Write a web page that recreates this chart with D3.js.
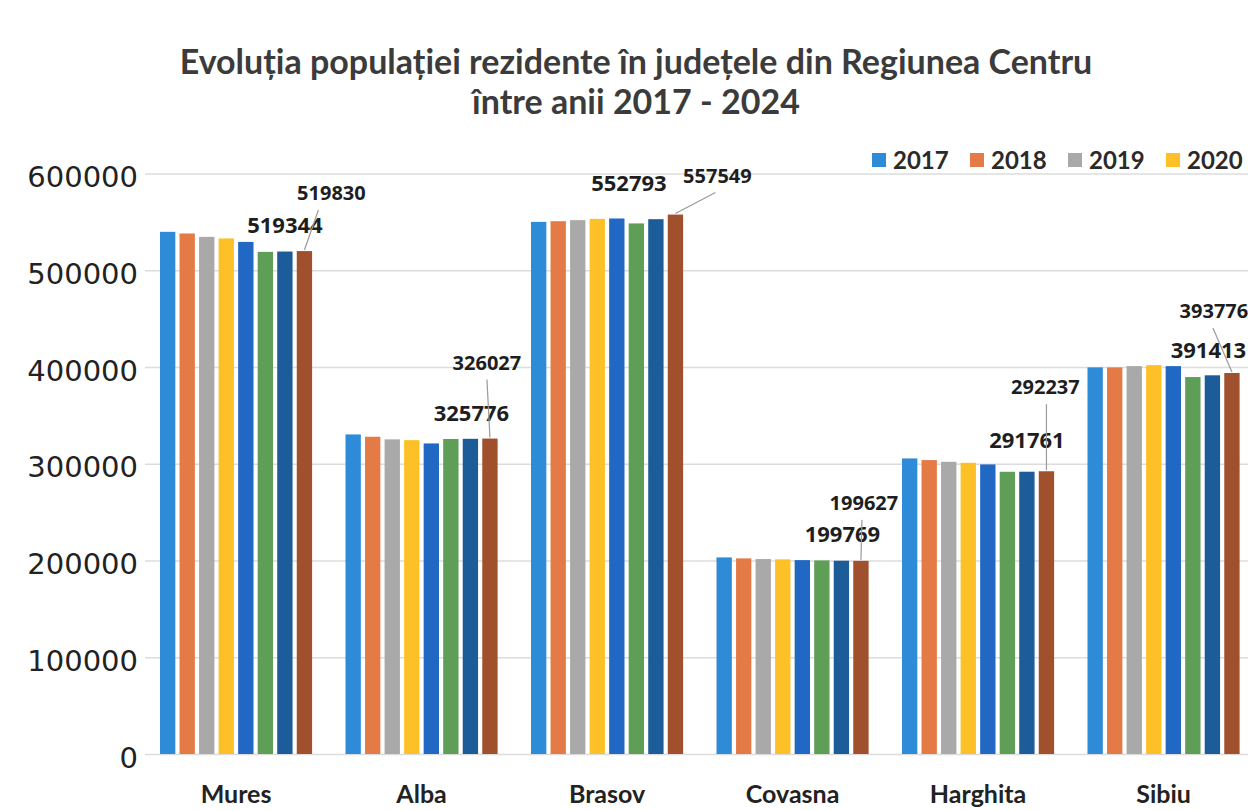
<!DOCTYPE html>
<html>
<head>
<meta charset="utf-8">
<script src="https://cdn.jsdelivr.net/npm/d3@7"></script>
<style>
    body { margin: 0; background: #fff; overflow: hidden; }
    svg { display: block; }
</style>
</head>
<body>
<svg width="1248" height="810"></svg>
<script>
// date: populatia rezidenta pe judete, 2017 - 2024
const categories = ["Mures", "Alba", "Brasov", "Covasna", "Harghita", "Sibiu"];
const years = ["2017", "2018", "2019", "2020", "2021", "2022", "2023", "2024"];

const v2017 = [539700, 330300, 550000, 203200, 305500, 399600];
const v2018 = [538000, 327900, 550700, 202200, 303800, 399600];
const v2019 = [534500, 325200, 551800, 201500, 302000, 400900];
const v2020 = [532900, 324400, 553100, 201200, 301000, 401900];
const v2021 = [529300, 321000, 553500, 200400, 299300, 400900];
const v2022 = [519000, 325600, 548400, 200100, 291700, 389600];
const v2023 = [519344, 325776, 552793, 199769, 291761, 391413];
const v2024 = [519830, 326027, 557549, 199627, 292237, 393776];

const yTicks = [0, 100000, 200000, 300000, 400000, 500000, 600000];

const series = [v2017, v2018, v2019, v2020, v2021, v2022, v2023, v2024];
const colors = ["#2e8bd8", "#e47b46", "#a9a9a9", "#fdc127", "#2167c4", "#5e9e56", "#1b5c99", "#a0502c"];

// unde au fost mutate etichetele (fata de varful barei)
const lab23 = [[0, -26], [1, -26], [-27, -36], [1, -27], [0, -32], [-4, -25]];
const lab24 = [[27, -58, -13], [-3, -76, 0], [42, -39, -2], [3, -58, -2], [-1, -84, 1], [-18, -62, -1]];

const svg = d3.select("svg");
const left = 145;

const x = d3.scaleBand().domain(categories).range([143.3, 1256.3])
    .paddingInner(0.18).paddingOuter(0.09);
const xi = d3.scaleBand().domain(years).range([0, x.bandwidth()])
    .paddingInner(0.215).paddingOuter(0);
const y = d3.scaleLinear().domain([0, 600000]).range([754, 173.5]);

// titlu
const title = svg.append("g")
    .attr("font-family", "Lato, 'Open Sans', sans-serif")
    .attr("font-weight", "bold")
    .attr("fill", "#3b3b3b")
    .attr("text-anchor", "middle");
title.append("text").attr("x", 636).attr("y", 74).attr("font-size", 34)
    .text("Evoluția populației rezidente în județele din Regiunea Centru");
title.append("text").attr("x", 636).attr("y", 114).attr("font-size", 34)
    .text("între anii 2017 - 2024");

// axa y + grila
const yAxis = svg.append("g")
    .attr("transform", `translate(${left},0)`)
    .call(d3.axisLeft(y).tickValues(yTicks).tickSize(-1200).tickPadding(7).tickFormat(d3.format("d")));
yAxis.select(".domain").remove();
yAxis.selectAll("line").attr("stroke", "#dcdcdc").attr("stroke-width", 1.5);
yAxis.selectAll("text")
    .attr("font-family", "'DejaVu Sans', sans-serif")
    .attr("font-size", 29)
    .attr("fill", "#222")
    .attr("dy", "0.45em");

// bare
const groups = svg.append("g").selectAll("g")
    .data(categories)
    .enter().append("g")
    .attr("transform", d => `translate(${x(d)},0)`);

groups.selectAll("rect")
    .data((c, ci) => years.map((yr, si) => ({ yr: yr, v: series[si][ci], col: colors[si] })))
    .enter().append("rect")
    .attr("x", d => xi(d.yr))
    .attr("y", d => y(d.v))
    .attr("width", xi.bandwidth())
    .attr("height", d => y(0) - y(d.v))
    .attr("fill", d => d.col);

// etichete categorii
svg.append("g").selectAll("text")
    .data(categories)
    .enter().append("text")
    .attr("x", d => x(d) + x.bandwidth() / 2)
    .attr("y", 803)
    .attr("text-anchor", "middle")
    .attr("font-family", "Lato, sans-serif")
    .attr("font-weight", "bold")
    .attr("font-size", 25)
    .attr("fill", "#222")
    .text(d => d);

// etichete valori 2023 si 2024
const labels = svg.append("g")
    .attr("font-family", "'Open Sans', sans-serif")
    .attr("font-weight", "bold")
    .attr("fill", "#1e1e1e")
    .attr("text-anchor", "middle");

categories.forEach((c, ci) => {
    const bx23 = x(c) + xi("2023") + xi.bandwidth() / 2;
    const bx24 = x(c) + xi("2024") + xi.bandwidth() / 2;
    const t23 = y(v2023[ci]);
    const t24 = y(v2024[ci]);

    labels.append("text")
        .attr("x", bx23 + lab23[ci][0])
        .attr("y", t23 + lab23[ci][1])
        .attr("dy", "0.36em")
        .attr("font-size", 22)
        .text(v2023[ci]);

    const lx = bx24 + lab24[ci][0];
    const ly = t24 + lab24[ci][1];
    svg.append("line")
        .attr("x1", lx + lab24[ci][2]).attr("y1", ly + 17)
        .attr("x2", bx24).attr("y2", t24 - 1)
        .attr("stroke", "#9a9a9a")
        .attr("stroke-width", 1.2);
    labels.append("text")
        .attr("x", lx)
        .attr("y", ly)
        .attr("dy", "0.36em")
        .attr("font-size", 20)
        .text(v2024[ci]);
});

// legenda
const legend = svg.append("g").selectAll("g")
    .data(years)
    .enter().append("g")
    .attr("transform", (d, i) => `translate(${872 + i * 98},153)`);
legend.append("rect")
    .attr("width", 14).attr("height", 14)
    .attr("fill", (d, i) => colors[i]);
legend.append("text")
    .attr("x", 21).attr("y", 7).attr("dy", "0.36em")
    .attr("font-family", "Lato, sans-serif")
    .attr("font-weight", "bold")
    .attr("font-size", 24)
    .attr("fill", "#2a2a2a")
    .text(d => d);
</script>
</body>
</html>
